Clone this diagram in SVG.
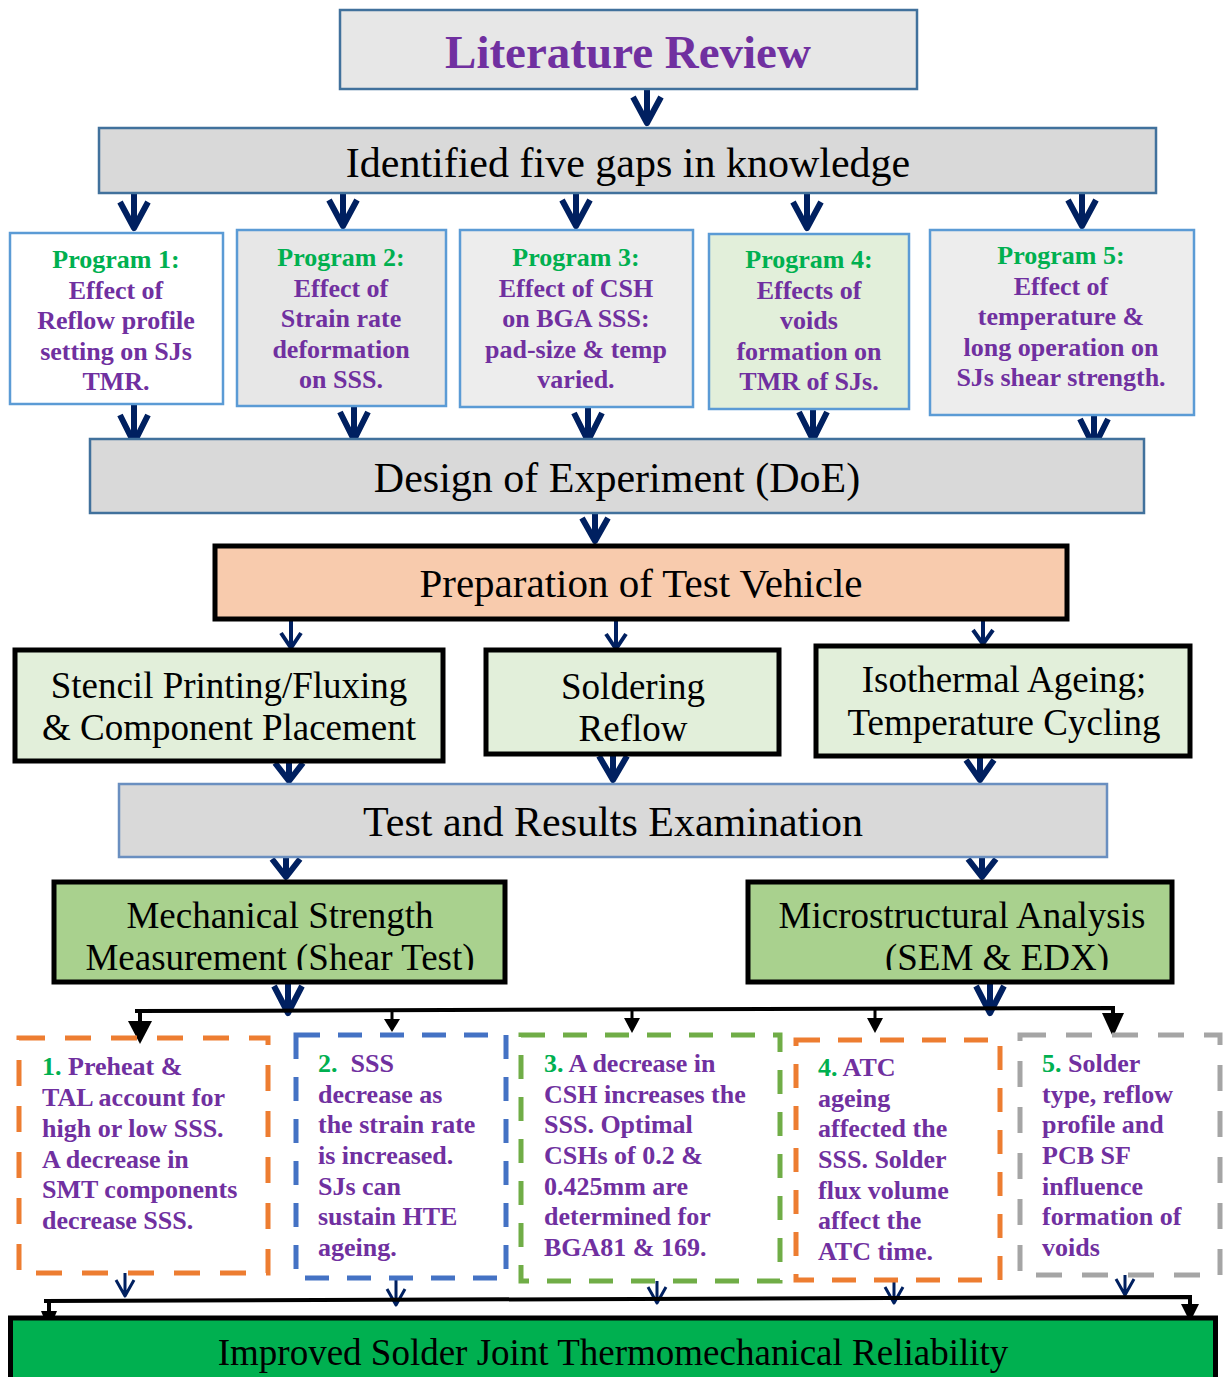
<svg xmlns="http://www.w3.org/2000/svg" width="1224" height="1377" viewBox="0 0 1224 1377">
  <style>
    text { font-family: "Liberation Serif", "Times New Roman", serif; }
    .big { font-size: 42px; fill: #000; text-anchor: middle; }
    .mid { font-size: 37px; fill: #000; text-anchor: middle; }
    .prog { font-size: 26px; font-weight: bold; fill: #7030a0; text-anchor: middle; }
    .note { font-size: 26px; font-weight: bold; fill: #7030a0; }
    .g { fill: #00b050; }
    .blue-box { stroke: #41719c; stroke-width: 2.5; }
    .prog-box { stroke: #5b9bd5; stroke-width: 2.5; }
    .black-box { stroke: #000; stroke-width: 5; }
    .dash { fill: none; stroke-width: 5; stroke-dasharray: 26 20; }
    .nv { fill: none; stroke: #002060; stroke-linejoin: round; stroke-linecap: butt; }
    .nv-l { stroke-width: 6; }
    .nv-m { stroke-width: 4; }
    .nv-s { stroke-width: 3; }
    .bus { fill: none; stroke: #000; stroke-width: 4; }
    .head { fill: #000; }
  </style>
  <defs>
    <clipPath id="clipMech"><rect x="54" y="884" width="451" height="86"/></clipPath>
    <clipPath id="clipMicro"><rect x="748" y="884" width="424" height="86"/></clipPath>
  </defs>

  <rect width="1224" height="1377" fill="#fff"/>

  <!-- Connectors -->
  <g id="connectors">
    <!-- navy chevron arrows -->
    <path class="nv nv-l" d="M647,89 V123 M633,97 L647,123 L661,97"/>
    <path class="nv nv-l" d="M134,193 V228 M120,202 L134,228 L148,202"/>
    <path class="nv nv-l" d="M343,193 V226 M329,200 L343,226 L357,200"/>
    <path class="nv nv-l" d="M576,193 V226 M562,200 L576,226 L590,200"/>
    <path class="nv nv-l" d="M807,193 V228 M793,202 L807,228 L821,202"/>
    <path class="nv nv-l" d="M1082,193 V226 M1068,200 L1082,226 L1096,200"/>

    <path class="nv nv-l" d="M134,404 V443 M120,415 L134,443 L148,415"/>
    <path class="nv nv-l" d="M354,406 V440 M340,412 L354,440 L368,412"/>
    <path class="nv nv-l" d="M588,407 V441 M574,413 L588,441 L602,413"/>
    <path class="nv nv-l" d="M813,409 V440 M799,412 L813,440 L827,412"/>
    <path class="nv nv-l" d="M1094,415 V447 M1080,419 L1094,447 L1108,419"/>

    <path class="nv nv-l" d="M595,513 V541 M582,518 L595,541 L608,518"/>

    <path class="nv nv-m" d="M291,619 V648 M281,633 L291,648 L301,633"/>
    <path class="nv nv-m" d="M616,619 V649 M606,634 L616,649 L626,634"/>
    <path class="nv nv-m" d="M983,619 V644 M973,630 L983,644 L993,630"/>

    <path class="nv nv-l" d="M289,761 V781 M275,763 L289,781 L303,763"/>
    <path class="nv nv-l" d="M613,754 V780 M599,756 L613,780 L627,756"/>
    <path class="nv nv-l" d="M980,756 V780 M966,760 L980,780 L994,760"/>

    <path class="nv nv-l" d="M286,857 V877 M272,859 L286,877 L300,859"/>
    <path class="nv nv-l" d="M982,857 V877 M968,859 L982,877 L996,859"/>

    <path class="nv nv-l" d="M288,982 V1013 M274,986 L288,1013 L302,986"/>
    <path class="nv nv-l" d="M990,982 V1013 M976,986 L990,1013 L1004,986"/>

    <path class="nv nv-s" d="M125,1273 V1296 M116,1280 L125,1296 L134,1280"/>
    <path class="nv nv-s" d="M396,1278 V1305 M387,1289 L396,1305 L405,1289"/>
    <path class="nv nv-s" d="M657,1281 V1303 M648,1287 L657,1303 L666,1287"/>
    <path class="nv nv-s" d="M894,1280 V1303 M885,1287 L894,1303 L903,1287"/>
    <path class="nv nv-s" d="M1125,1275 V1295 M1116,1279 L1125,1295 L1134,1279"/>

    <!-- black distribution line to the findings -->
    <path class="bus" d="M135,1011 L1113,1008 V1015"/>
    <path class="bus" d="M140,1011 V1023"/>
    <polygon class="head" points="128,1021 152,1021 140,1044"/>
    <path class="bus" d="M392,1010 V1020" style="stroke-width:3"/>
    <polygon class="head" points="384,1019 400,1019 392,1032"/>
    <path class="bus" d="M632,1009 V1019" style="stroke-width:3"/>
    <polygon class="head" points="624,1018 640,1018 632,1033"/>
    <path class="bus" d="M875,1009 V1019" style="stroke-width:3"/>
    <polygon class="head" points="867,1018 883,1018 875,1033"/>
    <polygon class="head" points="1102,1013 1124,1013 1113,1037"/>

    <!-- black collection line to the final outcome -->
    <path class="bus" d="M44,1301 L1190,1297 V1306"/>
    <path class="bus" d="M49,1301 V1313"/>
    <polygon class="head" points="41,1311 57,1311 49,1330"/>
    <polygon class="head" points="1181,1304 1199,1304 1190,1322"/>
  </g>

  <!-- Literature review -->
  <g id="literature-review">
    <rect x="340" y="10" width="577" height="79" fill="#e7e7e7" class="blue-box"/>
    <text x="628" y="68" style="font-size:47px;font-weight:bold;fill:#7030a0;text-anchor:middle">Literature Review</text>
  </g>

  <g id="gaps">
    <rect x="99" y="128" width="1057" height="65" fill="#d9d9d9" class="blue-box"/>
    <text class="big" x="628" y="177">Identified five gaps in knowledge</text>
  </g>

  <!-- Research programs -->
  <g id="program-1">
    <rect x="10" y="233" width="213" height="171" fill="#fff" class="prog-box"/>
    <text class="prog" x="116" y="268"><tspan class="g">Program 1:</tspan><tspan x="116" y="298.5">Effect of</tspan><tspan x="116" y="329">Reflow profile</tspan><tspan x="116" y="359.5">setting on SJs</tspan><tspan x="116" y="390">TMR.</tspan></text>
  </g>
  <g id="program-2">
    <rect x="237" y="230" width="209" height="176" fill="#e7e7e7" class="prog-box"/>
    <text class="prog" x="341" y="266"><tspan class="g">Program 2:</tspan><tspan x="341" y="296.5">Effect of</tspan><tspan x="341" y="327">Strain rate</tspan><tspan x="341" y="357.5">deformation</tspan><tspan x="341" y="388">on SSS.</tspan></text>
  </g>
  <g id="program-3">
    <rect x="460" y="230" width="233" height="177" fill="#ededed" class="prog-box"/>
    <text class="prog" x="576" y="266"><tspan class="g">Program 3:</tspan><tspan x="576" y="296.5">Effect of CSH</tspan><tspan x="576" y="327">on BGA SSS:</tspan><tspan x="576" y="357.5">pad-size &amp; temp</tspan><tspan x="576" y="388">varied.</tspan></text>
  </g>
  <g id="program-4">
    <rect x="709" y="234" width="200" height="175" fill="#e2efda" class="prog-box"/>
    <text class="prog" x="809" y="268"><tspan class="g">Program 4:</tspan><tspan x="809" y="298.5">Effects of</tspan><tspan x="809" y="329">voids</tspan><tspan x="809" y="359.5">formation on</tspan><tspan x="809" y="390">TMR of SJs.</tspan></text>
  </g>
  <g id="program-5">
    <rect x="930" y="230" width="264" height="185" fill="#ededed" class="prog-box"/>
    <text class="prog" x="1061" y="264"><tspan class="g">Program 5:</tspan><tspan x="1061" y="294.5">Effect of</tspan><tspan x="1061" y="325">temperature &amp;</tspan><tspan x="1061" y="355.5">long operation on</tspan><tspan x="1061" y="386">SJs shear strength.</tspan></text>
  </g>

  <g id="doe">
    <rect x="90" y="439" width="1054" height="74" fill="#d9d9d9" class="blue-box"/>
    <text class="big" x="617" y="492">Design of Experiment (DoE)</text>
  </g>

  <g id="test-vehicle">
    <rect x="215" y="546" width="852" height="73" fill="#f8cbad" class="black-box"/>
    <text class="big" x="641" y="597" style="font-size:41px">Preparation of Test Vehicle</text>
  </g>

  <!-- Fabrication steps -->
  <g id="stencil-printing">
    <rect x="15" y="650" width="428" height="111" fill="#e2efda" class="black-box"/>
    <text class="mid" x="229" y="698">Stencil Printing/Fluxing</text>
    <text class="mid" x="229" y="740">&amp; Component Placement</text>
  </g>
  <g id="soldering-reflow">
    <rect x="486" y="650" width="293" height="104" fill="#e2efda" class="black-box"/>
    <text class="mid" x="633" y="699">Soldering</text>
    <text class="mid" x="633" y="741">Reflow</text>
  </g>
  <g id="ageing-cycling">
    <rect x="816" y="646" width="374" height="110" fill="#e2efda" class="black-box"/>
    <text class="mid" x="1004" y="692">Isothermal Ageing;</text>
    <text class="mid" x="1004" y="735">Temperature Cycling</text>
  </g>

  <g id="test-results">
    <rect x="119" y="784" width="988" height="73" fill="#d9d9d9" stroke="#6a8fc0" stroke-width="2.5"/>
    <text class="big" x="613" y="836">Test and Results Examination</text>
  </g>

  <!-- Analyses -->
  <g id="mechanical-strength">
    <rect x="54" y="882" width="451" height="100" fill="#a9d18e" class="black-box"/>
    <text class="mid" x="280" y="928">Mechanical Strength</text>
    <text class="mid" x="280" y="970" clip-path="url(#clipMech)">Measurement (Shear Test)</text>
  </g>
  <g id="microstructural-analysis">
    <rect x="748" y="882" width="424" height="100" fill="#a9d18e" class="black-box"/>
    <text class="mid" x="962" y="928">Microstructural Analysis</text>
    <text class="mid" x="997" y="970" clip-path="url(#clipMicro)">(SEM &amp; EDX)</text>
  </g>

  <!-- Findings -->
  <g id="finding-1">
    <rect x="19" y="1038" width="249" height="235" class="dash" stroke="#ed7d31"/>
    <text class="note" x="42" y="1075"><tspan class="g">1.</tspan> Preheat &amp;<tspan x="42" y="1106">TAL account for</tspan><tspan x="42" y="1137">high or low SSS.</tspan><tspan x="42" y="1167.5">A decrease in</tspan><tspan x="42" y="1198">SMT components</tspan><tspan x="42" y="1229">decrease SSS.</tspan></text>
  </g>
  <g id="finding-2">
    <rect x="296" y="1035" width="210" height="243" class="dash" stroke="#4472c4" style="stroke-dasharray:24 18"/>
    <text class="note" x="318" y="1072"><tspan class="g">2.</tspan>&#160; SSS<tspan x="318" y="1102.5">decrease as</tspan><tspan x="318" y="1133">the strain rate</tspan><tspan x="318" y="1164">is increased.</tspan><tspan x="318" y="1194.5">SJs can</tspan><tspan x="318" y="1225">sustain HTE</tspan><tspan x="318" y="1256">ageing.</tspan></text>
  </g>
  <g id="finding-3">
    <rect x="521" y="1035" width="259" height="246" class="dash" stroke="#70ad47" style="stroke-dasharray:24 18"/>
    <text class="note" x="544" y="1072"><tspan class="g">3.</tspan> A decrease in<tspan x="544" y="1102.5">CSH increases the</tspan><tspan x="544" y="1133">SSS. Optimal</tspan><tspan x="544" y="1164">CSHs of 0.2 &amp;</tspan><tspan x="544" y="1194.5">0.425mm are</tspan><tspan x="544" y="1225">determined for</tspan><tspan x="544" y="1256">BGA81 &amp; 169.</tspan></text>
  </g>
  <g id="finding-4">
    <rect x="796" y="1040" width="204" height="240" class="dash" stroke="#ed7d31" style="stroke-dasharray:24 18"/>
    <text class="note" x="818" y="1076"><tspan class="g">4.</tspan> ATC<tspan x="818" y="1106.5">ageing</tspan><tspan x="818" y="1137">affected the</tspan><tspan x="818" y="1168">SSS. Solder</tspan><tspan x="818" y="1198.5">flux volume</tspan><tspan x="818" y="1229">affect the</tspan><tspan x="818" y="1260">ATC time.</tspan></text>
  </g>
  <g id="finding-5">
    <rect x="1020" y="1035" width="200" height="240" class="dash" stroke="#a5a5a5"/>
    <text class="note" x="1042" y="1072"><tspan class="g">5.</tspan> Solder<tspan x="1042" y="1102.5">type, reflow</tspan><tspan x="1042" y="1133">profile and</tspan><tspan x="1042" y="1164">PCB SF</tspan><tspan x="1042" y="1194.5">influence</tspan><tspan x="1042" y="1225">formation of</tspan><tspan x="1042" y="1256">voids</tspan></text>
  </g>

  <!-- Outcome -->
  <g id="reliability">
    <rect x="10.5" y="1318" width="1205" height="80" fill="#00b050" class="black-box"/>
    <text class="mid" x="613" y="1365">Improved Solder Joint Thermomechanical Reliability</text>
  </g>
</svg>
